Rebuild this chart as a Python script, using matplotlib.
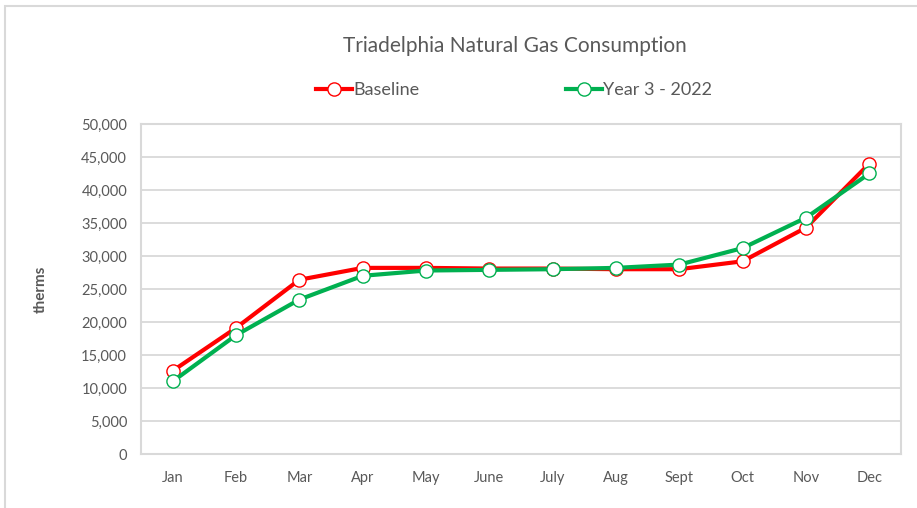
import matplotlib
matplotlib.use("Agg")
import matplotlib.pyplot as plt
import matplotlib.patches as mpatches
from matplotlib.ticker import FuncFormatter, MultipleLocator

# ─── Data ────────────────────────────────────────────────────────────────────

MONTHS = ["Jan", "Feb", "Mar", "Apr", "May", "June", "July", "Aug", "Sept", "Oct", "Nov", "Dec"]
BASELINE = [12600, 19100, 26400, 28200, 28200, 28100, 28100, 28000, 28000, 29200, 34300, 44000]
YEAR3_2022 = [11000, 18000, 23400, 27000, 27800, 27900, 28000, 28200, 28700, 31200, 35800, 42500]

# ─── Style ───────────────────────────────────────────────────────────────────

COLORS = {
    "baseline": "#FF0000",
    "year3":    "#00B050",
    "text":     "#595959",
    "grid":     "#D9D9D9",
}

plt.rcParams.update({
    "font.family": ["Lato", "DejaVu Sans"],
    "text.color":  COLORS["text"],
})

fig = plt.figure(figsize=(9.17, 5.08), dpi=100)
ax = fig.add_axes([141 / 917, 54 / 508, 760 / 917, 330 / 508])

x = list(range(len(MONTHS)))
line_kw = dict(linewidth=3, marker="o", markersize=9.5, markerfacecolor="white",
               markeredgewidth=1.0)
ax.plot(x, BASELINE, color=COLORS["baseline"], label="Baseline", zorder=3, **line_kw)
ax.plot(x, YEAR3_2022, color=COLORS["year3"], label="Year 3 - 2022", zorder=4, **line_kw)

ax.set_xlim(-0.5, len(MONTHS) - 0.5)
ax.set_ylim(0, 50000)
ax.yaxis.set_major_locator(MultipleLocator(5000))
ax.yaxis.set_major_formatter(FuncFormatter(lambda v, _: f"{int(v):,}"))
ax.set_xticks(x)
ax.set_xticklabels(MONTHS)
ax.tick_params(axis="both", length=0, labelsize=10.5, labelcolor=COLORS["text"])
ax.tick_params(axis="y", pad=10)
ax.tick_params(axis="x", pad=12)

ax.grid(axis="y", color=COLORS["grid"], linewidth=1.3)
ax.set_axisbelow(True)
for s in ax.spines.values():
    s.set_color(COLORS["grid"])
    s.set_linewidth(1.5)

ax.set_ylabel("therms", fontsize=11, fontweight="bold", color=COLORS["text"], labelpad=24)

fig.suptitle("Triadelphia Natural Gas Consumption", x=515 / 917, y=1 - 46 / 508,
             va="center", fontsize=15, color=COLORS["text"])

fig.legend(loc="center", bbox_to_anchor=(514 / 917, 1 - 90 / 508), ncol=2,
           frameon=False, fontsize=13, handlelength=2.0, handletextpad=0.05,
           columnspacing=8.1, labelcolor=COLORS["text"])

# chart border (partially cropped in the original)
fig.add_artist(mpatches.Rectangle((4.5 / 917, -0.1), 1.2, 1.1 - 6.5 / 508,
                                  transform=fig.transFigure, fill=False,
                                  edgecolor=COLORS["grid"], linewidth=1.5))

fig.savefig("out.png", dpi=100)
